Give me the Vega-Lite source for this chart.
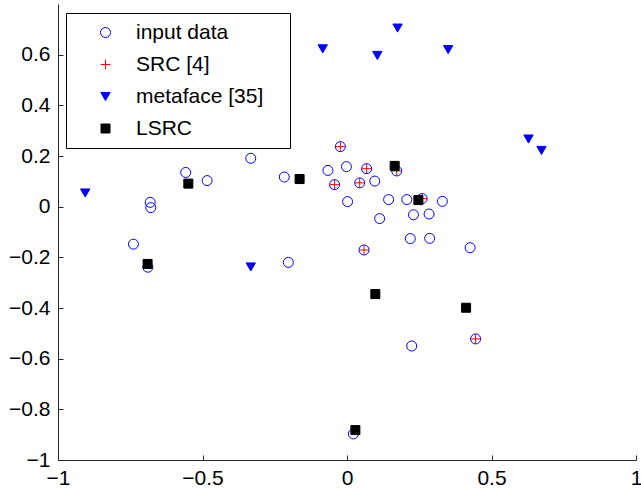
{
  "$schema": "https://vega.github.io/schema/vega-lite/v6.json",
  "width": 578,
  "height": 456,
  "autosize": {"type": "none"},
  "padding": {"left": 58, "top": 4, "right": 5, "bottom": 29},
  "background": "white",
  "config": {
    "view": {"stroke": null},
    "font": "Liberation Sans",
    "axis": {
      "grid": false,
      "domainColor": "#262626",
      "domainWidth": 1,
      "tickColor": "#262626",
      "tickWidth": 1,
      "tickSize": -5,
      "labelFont": "Liberation Sans",
      "labelFontSize": 21,
      "labelColor": "black",
      "labelFlush": false,
      "labelOverlap": false,
      "title": null
    }
  },
  "data": {
    "values": [
      {"x": -0.023, "y": 0.237, "series": "input data"},
      {"x": -0.066, "y": 0.143, "series": "input data"},
      {"x": -0.002, "y": 0.158, "series": "input data"},
      {"x": 0.068, "y": 0.150, "series": "input data"},
      {"x": 0.172, "y": 0.141, "series": "input data"},
      {"x": -0.043, "y": 0.087, "series": "input data"},
      {"x": 0.044, "y": 0.094, "series": "input data"},
      {"x": 0.096, "y": 0.101, "series": "input data"},
      {"x": 0.002, "y": 0.020, "series": "input data"},
      {"x": 0.144, "y": 0.028, "series": "input data"},
      {"x": 0.207, "y": 0.028, "series": "input data"},
      {"x": 0.260, "y": 0.032, "series": "input data"},
      {"x": 0.330, "y": 0.021, "series": "input data"},
      {"x": 0.113, "y": -0.047, "series": "input data"},
      {"x": 0.230, "y": -0.032, "series": "input data"},
      {"x": 0.284, "y": -0.029, "series": "input data"},
      {"x": 0.219, "y": -0.126, "series": "input data"},
      {"x": 0.286, "y": -0.125, "series": "input data"},
      {"x": 0.059, "y": -0.171, "series": "input data"},
      {"x": 0.426, "y": -0.162, "series": "input data"},
      {"x": -0.558, "y": 0.135, "series": "input data"},
      {"x": -0.484, "y": 0.103, "series": "input data"},
      {"x": -0.681, "y": 0.017, "series": "input data"},
      {"x": -0.679, "y": -0.004, "series": "input data"},
      {"x": -0.739, "y": -0.148, "series": "input data"},
      {"x": -0.689, "y": -0.239, "series": "input data"},
      {"x": -0.203, "y": -0.220, "series": "input data"},
      {"x": -0.217, "y": 0.117, "series": "input data"},
      {"x": -0.333, "y": 0.191, "series": "input data"},
      {"x": 0.445, "y": -0.522, "series": "input data"},
      {"x": 0.224, "y": -0.550, "series": "input data"},
      {"x": 0.022, "y": -0.897, "series": "input data"},
      {"x": -0.023, "y": 0.237, "series": "SRC [4]"},
      {"x": 0.068, "y": 0.150, "series": "SRC [4]"},
      {"x": 0.172, "y": 0.141, "series": "SRC [4]"},
      {"x": -0.043, "y": 0.087, "series": "SRC [4]"},
      {"x": 0.044, "y": 0.094, "series": "SRC [4]"},
      {"x": 0.260, "y": 0.032, "series": "SRC [4]"},
      {"x": 0.059, "y": -0.171, "series": "SRC [4]"},
      {"x": 0.445, "y": -0.522, "series": "SRC [4]"},
      {"x": -0.906, "y": 0.054, "series": "metaface [35]"},
      {"x": -0.333, "y": -0.238, "series": "metaface [35]"},
      {"x": -0.084, "y": 0.623, "series": "metaface [35]"},
      {"x": 0.105, "y": 0.597, "series": "metaface [35]"},
      {"x": 0.175, "y": 0.705, "series": "metaface [35]"},
      {"x": 0.350, "y": 0.620, "series": "metaface [35]"},
      {"x": 0.628, "y": 0.267, "series": "metaface [35]"},
      {"x": 0.673, "y": 0.222, "series": "metaface [35]"},
      {"x": -0.690, "y": -0.226, "series": "LSRC"},
      {"x": -0.549, "y": 0.091, "series": "LSRC"},
      {"x": -0.164, "y": 0.109, "series": "LSRC"},
      {"x": 0.165, "y": 0.161, "series": "LSRC"},
      {"x": 0.247, "y": 0.026, "series": "LSRC"},
      {"x": 0.098, "y": -0.345, "series": "LSRC"},
      {"x": 0.412, "y": -0.399, "series": "LSRC"},
      {"x": 0.029, "y": -0.882, "series": "LSRC"}
    ]
  },
  "mark": {"type": "point", "filled": true, "opacity": 1, "strokeWidth": 1},
  "encoding": {
    "x": {
      "field": "x",
      "type": "quantitative",
      "scale": {"domain": [-1, 1], "nice": false, "zero": false},
      "axis": {"values": [-1, -0.5, 0, 0.5, 1], "format": "~g", "labelPadding": 12}
    },
    "y": {
      "field": "y",
      "type": "quantitative",
      "scale": {"domain": [-1, 0.8], "nice": false, "zero": false},
      "axis": {"values": [-1, -0.8, -0.6, -0.4, -0.2, 0, 0.2, 0.4, 0.6], "format": "~g", "labelPadding": 13}
    },
    "shape": {
      "field": "series",
      "type": "nominal",
      "scale": {
        "domain": ["input data", "SRC [4]", "metaface [35]", "LSRC"],
        "range": ["circle", "M-1,0H1M0,-1V1", "triangle-down", "square"]
      },
      "legend": {
        "title": " ",
        "titleOrient": "right",
        "titleFontSize": 1,
        "titlePadding": 18,
        "orient": "none",
        "legendX": 8,
        "legendY": 9,
        "padding": 9,
        "symbolOffset": 20,
        "labelOffset": 20,
        "labelFont": "Liberation Sans",
        "labelFontSize": 21,
        "labelColor": "black",
        "rowPadding": 10,
        "strokeColor": "black",
        "fillColor": "white",
        "symbolStrokeWidth": 1,
        "labelLimit": 400,
        "encode": {
          "symbols": {
            "update": {
              "stroke": {"scale": "stroke", "field": "value"},
              "fill": {"scale": "fill", "field": "value"},
              "strokeWidth": {"value": 1}
            }
          }
        }
      }
    },
    "stroke": {
      "field": "series",
      "type": "nominal",
      "scale": {
        "domain": ["input data", "SRC [4]", "metaface [35]", "LSRC"],
        "range": ["#0000ff", "#ff0000", "#0000ff", "#000000"]
      }
    },
    "fill": {
      "field": "series",
      "type": "nominal",
      "scale": {
        "domain": ["input data", "SRC [4]", "metaface [35]", "LSRC"],
        "range": ["transparent", "transparent", "#0000ff", "#000000"]
      }
    },
    "size": {
      "field": "series",
      "type": "nominal",
      "scale": {
        "domain": ["input data", "SRC [4]", "metaface [35]", "LSRC"],
        "range": [100, 81, 130, 64]
      }
    }
  }
}
